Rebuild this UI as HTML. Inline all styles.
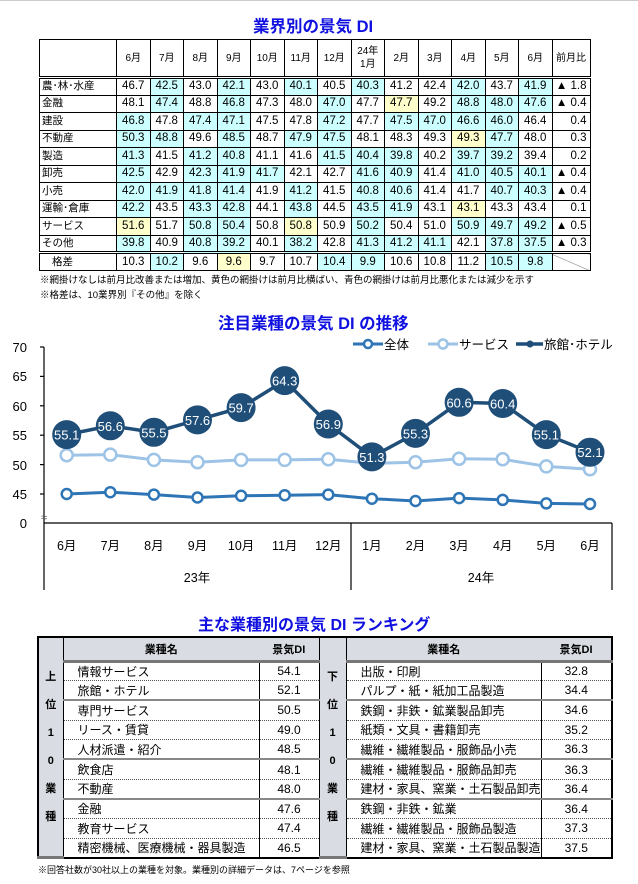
<!DOCTYPE html>
<html><head><meta charset="utf-8"><style>
*{margin:0;padding:0;box-sizing:border-box}
body{width:638px;height:884px;background:#fff;position:relative;overflow:hidden;font-family:"Liberation Sans","Noto Sans CJK JP",sans-serif;color:#000}
.t{position:absolute;color:#1010e0;font-weight:bold;font-size:15px;white-space:nowrap}
table{border-collapse:collapse;position:absolute;table-layout:fixed}
#t1{left:39px;top:39px;font-size:11.5px}
#t1 td{border:1px solid #000;height:17.5px;text-align:center;padding:0;line-height:15px}
#t1 td.l{text-align:left;padding-left:2px;font-size:10.5px}
#t1 tr.h td{height:38px;font-size:10px;border-bottom:3px double #000}
#t1 tr.g td{border-top:3px double #000;height:18px}
.b{background:#ccffff}.y{background:#ffffcc}
.r{text-align:right!important;padding-right:3px!important}
.note{position:absolute;left:40px;font-size:9.5px;white-space:nowrap}
#t2{left:37px;top:636px;font-size:12px;border:2px solid #000}
#t2 td{height:19.7px;padding:0;border-bottom:1px dotted #555}
#t2 tr.h td{background:#d9dde3;font-weight:bold;text-align:center;height:24px;border-bottom:3px solid #777;font-size:11px}
#t2 td.n{padding-left:14px;border-left:1px solid #000;border-right:1px solid #000}
#t2 td.v{text-align:center}
#t2 td.s{background:#d9dde3;text-align:center;font-weight:bold;font-size:12px;line-height:28px;border-bottom:none;border-right:1px solid #000;border-left:1px solid #000}
#t2 tr.k td.n,#t2 tr.k td.v{border-bottom:2px solid #888}
</style></head><body>
<div style="position:absolute;left:0;top:0;width:638px;height:1px;background:#ccc"></div>
<div class="t" style="left:253px;top:13px;font-size:16.5px">業界別の景気 DI</div>
<table id="t1">
<colgroup><col style="width:77px"><col style="width:33.5px"><col style="width:33.5px"><col style="width:33.5px"><col style="width:33.5px"><col style="width:33.5px"><col style="width:33.5px"><col style="width:33.5px"><col style="width:33.5px"><col style="width:33.5px"><col style="width:33.5px"><col style="width:33.5px"><col style="width:33.5px"><col style="width:33.5px"><col style="width:38px"></colgroup>
<tr class="h"><td></td><td>6月</td><td>7月</td><td>8月</td><td>9月</td><td>10月</td><td>11月</td><td>12月</td><td style="line-height:13px">24年<br>1月</td><td>2月</td><td>3月</td><td>4月</td><td>5月</td><td>6月</td><td>前月比</td></tr>
<tr><td class="l">農･林･水産</td><td>46.7</td><td class="b">42.5</td><td>43.0</td><td class="b">42.1</td><td>43.0</td><td class="b">40.1</td><td>40.5</td><td class="b">40.3</td><td>41.2</td><td>42.4</td><td class="b">42.0</td><td>43.7</td><td class="b">41.9</td><td class="r">▲ 1.8</td></tr>
<tr><td class="l">金融</td><td>48.1</td><td class="b">47.4</td><td>48.8</td><td class="b">46.8</td><td>47.3</td><td>48.0</td><td class="b">47.0</td><td>47.7</td><td class="y">47.7</td><td>49.2</td><td class="b">48.8</td><td class="b">48.0</td><td class="b">47.6</td><td class="r">▲ 0.4</td></tr>
<tr><td class="l">建設</td><td class="b">46.8</td><td>47.8</td><td class="b">47.4</td><td class="b">47.1</td><td>47.5</td><td>47.8</td><td class="b">47.2</td><td>47.7</td><td class="b">47.5</td><td class="b">47.0</td><td class="b">46.6</td><td class="b">46.0</td><td>46.4</td><td class="r">0.4</td></tr>
<tr><td class="l">不動産</td><td class="b">50.3</td><td class="b">48.8</td><td>49.6</td><td class="b">48.5</td><td>48.7</td><td class="b">47.9</td><td class="b">47.5</td><td>48.1</td><td>48.3</td><td>49.3</td><td class="y">49.3</td><td class="b">47.7</td><td>48.0</td><td class="r">0.3</td></tr>
<tr><td class="l">製造</td><td class="b">41.3</td><td>41.5</td><td class="b">41.2</td><td class="b">40.8</td><td>41.1</td><td>41.6</td><td class="b">41.5</td><td class="b">40.4</td><td class="b">39.8</td><td>40.2</td><td class="b">39.7</td><td class="b">39.2</td><td>39.4</td><td class="r">0.2</td></tr>
<tr><td class="l">卸売</td><td class="b">42.5</td><td>42.9</td><td class="b">42.3</td><td class="b">41.9</td><td class="b">41.7</td><td>42.1</td><td>42.7</td><td class="b">41.6</td><td class="b">40.9</td><td>41.4</td><td class="b">41.0</td><td class="b">40.5</td><td class="b">40.1</td><td class="r">▲ 0.4</td></tr>
<tr><td class="l">小売</td><td class="b">42.0</td><td class="b">41.9</td><td class="b">41.8</td><td class="b">41.4</td><td>41.9</td><td class="b">41.2</td><td>41.5</td><td class="b">40.8</td><td class="b">40.6</td><td>41.4</td><td>41.7</td><td class="b">40.7</td><td class="b">40.3</td><td class="r">▲ 0.4</td></tr>
<tr><td class="l">運輸･倉庫</td><td class="b">42.2</td><td>43.5</td><td class="b">43.3</td><td class="b">42.8</td><td>44.1</td><td class="b">43.8</td><td>44.5</td><td class="b">43.5</td><td class="b">41.9</td><td>43.1</td><td class="y">43.1</td><td>43.3</td><td>43.4</td><td class="r">0.1</td></tr>
<tr><td class="l">サービス</td><td class="y">51.6</td><td>51.7</td><td class="b">50.8</td><td class="b">50.4</td><td>50.8</td><td class="y">50.8</td><td>50.9</td><td class="b">50.2</td><td>50.4</td><td>51.0</td><td class="b">50.9</td><td class="b">49.7</td><td class="b">49.2</td><td class="r">▲ 0.5</td></tr>
<tr><td class="l">その他</td><td class="b">39.8</td><td>40.9</td><td class="b">40.8</td><td class="b">39.2</td><td>40.1</td><td class="b">38.2</td><td>42.8</td><td class="b">41.3</td><td class="b">41.2</td><td class="b">41.1</td><td>42.1</td><td class="b">37.8</td><td class="b">37.5</td><td class="r">▲ 0.3</td></tr>
<tr class="g"><td style="padding-left:12px;text-align:left;font-size:10.5px">格差</td><td>10.3</td><td class="b">10.2</td><td>9.6</td><td class="y">9.6</td><td>9.7</td><td>10.7</td><td class="b">10.4</td><td class="b">9.9</td><td>10.6</td><td>10.8</td><td>11.2</td><td class="b">10.5</td><td class="b">9.8</td><td style="background:linear-gradient(to top right,#fff 48%,#888 50%,#fff 52%)"></td></tr>
</table>
<div class="note" style="top:272px">※網掛けなしは前月比改善または増加、黄色の網掛けは前月比横ばい、青色の網掛けは前月比悪化または減少を示す</div>
<div class="note" style="top:287px">※格差は、10業界別『その他』を除く</div>

<div class="t" style="left:218px;top:310px;font-size:16.5px">注目業種の景気 DI の推移</div>
<svg style="position:absolute;left:0;top:330px" width="638" height="265" viewBox="0 330 638 265" font-family="Liberation Sans, Noto Sans CJK JP, sans-serif">
<g font-size="13" text-anchor="end" fill="#000">
<text x="27" y="352">70</text><text x="27" y="381">65</text><text x="27" y="411">60</text><text x="27" y="440">55</text><text x="27" y="470">50</text><text x="27" y="499">45</text><text x="27" y="528">0</text></g>
<g stroke="#000" stroke-width="1.2"><line x1="44" y1="347" x2="44" y2="590"/>
<line x1="40" y1="347" x2="44" y2="347"/><line x1="40" y1="376.4" x2="44" y2="376.4"/><line x1="40" y1="405.8" x2="44" y2="405.8"/><line x1="40" y1="435.2" x2="44" y2="435.2"/><line x1="40" y1="464.6" x2="44" y2="464.6"/><line x1="40" y1="494" x2="44" y2="494"/>
<line x1="44" y1="523" x2="612" y2="523"/><line x1="351" y1="523" x2="351" y2="590"/><line x1="612" y1="523" x2="612" y2="590"/></g>
<text x="44" y="521" font-size="11" text-anchor="middle" fill="#555">≈</text>
<g font-size="12.5" text-anchor="middle"><text x="66.7" y="550">6月</text><text x="110.3" y="550">7月</text><text x="153.9" y="550">8月</text><text x="197.5" y="550">9月</text><text x="241.1" y="550">10月</text><text x="284.7" y="550">11月</text><text x="328.3" y="550">12月</text><text x="371.9" y="550">1月</text><text x="415.5" y="550">2月</text><text x="459.1" y="550">3月</text><text x="502.7" y="550">4月</text><text x="546.3" y="550">5月</text><text x="590" y="550">6月</text>
<text x="197" y="582">23年</text><text x="481" y="582">24年</text></g>
<polyline fill="none" stroke="#2e75b6" stroke-width="3" points="66.7,494 110.3,492.2 153.9,494.6 197.5,497.5 241.1,495.8 284.7,495.2 328.3,494.6 371.9,498.7 415.5,501 459.1,498.1 502.7,499.9 546.3,503.4 590,504"/>
<g fill="#fff" stroke="#2e75b6" stroke-width="2.5"><circle cx="66.7" cy="494" r="5"/><circle cx="110.3" cy="492.2" r="5"/><circle cx="153.9" cy="494.6" r="5"/><circle cx="197.5" cy="497.5" r="5"/><circle cx="241.1" cy="495.8" r="5"/><circle cx="284.7" cy="495.2" r="5"/><circle cx="328.3" cy="494.6" r="5"/><circle cx="371.9" cy="498.7" r="5"/><circle cx="415.5" cy="501" r="5"/><circle cx="459.1" cy="498.1" r="5"/><circle cx="502.7" cy="499.9" r="5"/><circle cx="546.3" cy="503.4" r="5"/><circle cx="590" cy="504" r="5"/></g>
<polyline fill="none" stroke="#9dc3e6" stroke-width="3" points="66.7,455.2 110.3,454.6 153.9,459.9 197.5,462.2 241.1,459.9 284.7,459.9 328.3,459.3 371.9,463.4 415.5,462.2 459.1,458.7 502.7,459.3 546.3,466.4 590,469.3"/>
<g fill="#fff" stroke="#9dc3e6" stroke-width="2.5"><circle cx="66.7" cy="455.2" r="6"/><circle cx="110.3" cy="454.6" r="6"/><circle cx="153.9" cy="459.9" r="6"/><circle cx="197.5" cy="462.2" r="6"/><circle cx="241.1" cy="459.9" r="6"/><circle cx="284.7" cy="459.9" r="6"/><circle cx="328.3" cy="459.3" r="6"/><circle cx="371.9" cy="463.4" r="6"/><circle cx="415.5" cy="462.2" r="6"/><circle cx="459.1" cy="458.7" r="6"/><circle cx="502.7" cy="459.3" r="6"/><circle cx="546.3" cy="466.4" r="6"/><circle cx="590" cy="469.3" r="6"/></g>
<polyline fill="none" stroke="#1f4e79" stroke-width="3.5" points="66.7,434.6 110.3,425.8 153.9,432.3 197.5,419.9 241.1,407.6 284.7,380.6 328.3,424 371.9,456.9 415.5,433.4 459.1,402.3 502.7,403.5 546.3,434.6 590,452.2"/>
<g fill="#1f4e79"><circle cx="66.7" cy="434.6" r="14.5"/><circle cx="110.3" cy="425.8" r="14.5"/><circle cx="153.9" cy="432.3" r="14.5"/><circle cx="197.5" cy="419.9" r="14.5"/><circle cx="241.1" cy="407.6" r="14.5"/><circle cx="284.7" cy="380.6" r="14.5"/><circle cx="328.3" cy="424" r="14.5"/><circle cx="371.9" cy="456.9" r="14.5"/><circle cx="415.5" cy="433.4" r="14.5"/><circle cx="459.1" cy="402.3" r="14.5"/><circle cx="502.7" cy="403.5" r="14.5"/><circle cx="546.3" cy="434.6" r="14.5"/><circle cx="590" cy="452.2" r="14.5"/></g>
<g fill="#fff" font-size="13" text-anchor="middle"><text x="66.7" y="439.6">55.1</text><text x="110.3" y="430.8">56.6</text><text x="153.9" y="437.3">55.5</text><text x="197.5" y="424.9">57.6</text><text x="241.1" y="412.6">59.7</text><text x="284.7" y="385.6">64.3</text><text x="328.3" y="429">56.9</text><text x="371.9" y="461.9">51.3</text><text x="415.5" y="438.4">55.3</text><text x="459.1" y="407.3">60.6</text><text x="502.7" y="408.5">60.4</text><text x="546.3" y="439.6">55.1</text><text x="590" y="457.2">52.1</text></g>
<line x1="353" y1="344" x2="383" y2="344" stroke="#2e75b6" stroke-width="3"/><circle cx="368" cy="344" r="4" fill="#fff" stroke="#2e75b6" stroke-width="2.5"/>
<line x1="428" y1="344" x2="458" y2="344" stroke="#9dc3e6" stroke-width="3"/><circle cx="443" cy="344" r="4.5" fill="#fff" stroke="#9dc3e6" stroke-width="2.5"/>
<line x1="516" y1="344" x2="543" y2="344" stroke="#1f4e79" stroke-width="3.5"/><circle cx="530" cy="344" r="3.5" fill="#1f4e79"/>
<g font-size="12.5"><text x="384" y="349">全体</text><text x="459" y="349">サービス</text><text x="544" y="349">旅館･ホテル</text></g>
</svg>

<div class="t" style="left:198px;top:611px;font-size:16px">主な業種別の景気 DI ランキング</div>
<table id="t2">
<colgroup><col style="width:25px"><col style="width:196px"><col style="width:60px"><col style="width:27px"><col style="width:195px"><col style="width:71px"></colgroup>
<tr class="h"><td class="s" rowspan="11" style="vertical-align:middle">上<br>位<br>1<br>0<br>業<br>種</td><td>業種名</td><td>景気DI</td><td class="s" rowspan="11" style="vertical-align:middle">下<br>位<br>1<br>0<br>業<br>種</td><td>業種名</td><td>景気DI</td></tr>
<tr><td class="n">情報サービス</td><td class="v">54.1</td><td class="n">出版・印刷</td><td class="v">32.8</td></tr>
<tr class="k"><td class="n">旅館・ホテル</td><td class="v">52.1</td><td class="n">パルプ・紙・紙加工品製造</td><td class="v">34.4</td></tr>
<tr><td class="n">専門サービス</td><td class="v">50.5</td><td class="n">鉄鋼・非鉄・鉱業製品卸売</td><td class="v">34.6</td></tr>
<tr><td class="n">リース・賃貸</td><td class="v">49.0</td><td class="n">紙類・文具・書籍卸売</td><td class="v">35.2</td></tr>
<tr class="k"><td class="n">人材派遣・紹介</td><td class="v">48.5</td><td class="n">繊維・繊維製品・服飾品小売</td><td class="v">36.3</td></tr>
<tr><td class="n">飲食店</td><td class="v">48.1</td><td class="n">繊維・繊維製品・服飾品卸売</td><td class="v">36.3</td></tr>
<tr class="k"><td class="n">不動産</td><td class="v">48.0</td><td class="n">建材・家具、窯業・土石製品卸売</td><td class="v">36.4</td></tr>
<tr><td class="n">金融</td><td class="v">47.6</td><td class="n">鉄鋼・非鉄・鉱業</td><td class="v">36.4</td></tr>
<tr><td class="n">教育サービス</td><td class="v">47.4</td><td class="n">繊維・繊維製品・服飾品製造</td><td class="v">37.3</td></tr>
<tr><td class="n" style="border-bottom:none">精密機械、医療機械・器具製造</td><td class="v" style="border-bottom:none">46.5</td><td class="n" style="border-bottom:none">建材・家具、窯業・土石製品製造</td><td class="v" style="border-bottom:none">37.5</td></tr>
</table>
<div class="note" style="left:38px;top:863px;font-size:9px">※回答社数が30社以上の業種を対象。業種別の詳細データは、7ページを参照</div>
</body></html>
